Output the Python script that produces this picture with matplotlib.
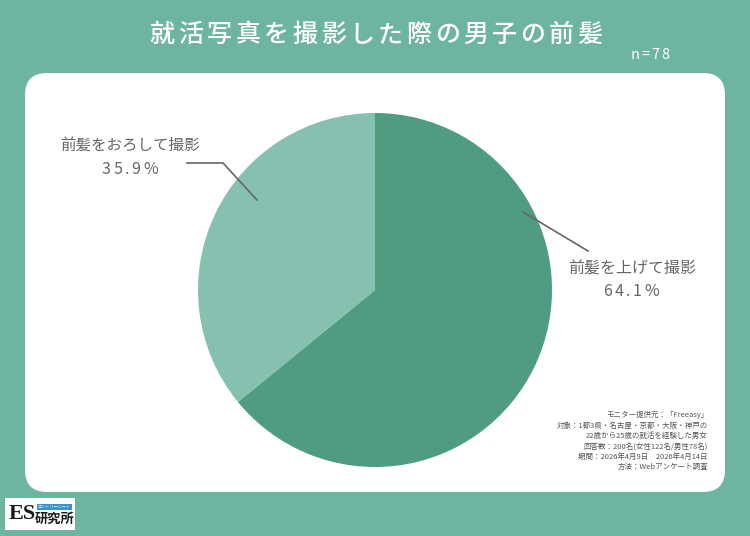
import matplotlib
matplotlib.use("Agg")
import matplotlib.pyplot as plt
from matplotlib.patches import FancyBboxPatch, Rectangle

plt.rcParams['font.family'] = ['Noto Sans CJK JP', 'DejaVu Sans']

# data
labels = ["前髪を上げて撮影", "前髪をおろして撮影"]
shares = [64.1, 35.9]
colors = ["#4f9c80", "#86c0b0"]
title = "就活写真を撮影した際の男子の前髪"
n_text = "n=78"
notes = [
    "モニター提供元：「Freeasy」",
    "対象：1都3県・名古屋・京都・大阪・神戸の",
    "22歳から25歳の就活を経験した男女",
    "回答数：200名(女性122名/男性78名)",
    "期間：2026年4月9日　2026年4月14日",
    "方法：Webアンケート調査",
]

W, H = 750, 536
bg = "#6db5a0"
fig = plt.figure(figsize=(W / 100, H / 100), dpi=100, facecolor=bg)
ax = fig.add_axes([0, 0, 1, 1])
renderer = fig.canvas.get_renderer()


def spaced_text(x, y, s, gap, **kw):
    # draw text with extra letter spacing (pixels), centred on x
    parts = [ax.text(0, y, ch, ha="left", va="center", **kw) for ch in s]
    widths = [p.get_window_extent(renderer).width for p in parts]
    total = sum(widths) + gap * (len(s) - 1)
    cx = x - total / 2
    for p, w in zip(parts, widths):
        p.set_x(cx)
        cx += w + gap


# white panel
ax.add_patch(FancyBboxPatch((25, H - 492), 700, 419,
                            boxstyle="round,pad=0,rounding_size=22",
                            facecolor="white", edgecolor="none", zorder=1))

# pie
ax.pie(shares, colors=colors, startangle=90, counterclock=False,
       center=(375, H - 290), radius=177, frame=True,
       wedgeprops=dict(edgecolor="none", zorder=2))
ax.set_xlim(0, W)
ax.set_ylim(0, H)
ax.set_aspect("equal")
ax.axis("off")

gray = "#666666"
# leader lines
ax.plot([523, 588], [H - 212, H - 251], color=gray, lw=1.2, zorder=3)
ax.plot([187, 223, 257], [H - 163, H - 163, H - 200], color=gray, lw=1.2, zorder=3)

# labels
ax.text(632, H - 268, labels[0], ha="center", va="center", fontsize=11.5, color=gray, zorder=4)
spaced_text(631, H - 292, f"{shares[0]}%", 2.5, fontsize=11.5, color=gray, zorder=4)
ax.text(129.5, H - 145, labels[1], ha="center", va="center", fontsize=11.2, color=gray, zorder=4)
spaced_text(130, H - 170, f"{shares[1]}%", 2.5, fontsize=11.5, color=gray, zorder=4)

# title
spaced_text(376, H - 35, title, 3.5, fontsize=18, fontweight="medium", color="white")
spaced_text(650, H - 55, n_text, 1.5, fontsize=10.5, color="white")

# notes
for i, line in enumerate(notes):
    ax.text(708, H - 415 - i * 10.4, line, ha="right", va="center", fontsize=5.4,
            color="#555555", zorder=4)

# logo
ax.add_patch(Rectangle((5, H - 530), 70, 32, facecolor="white", edgecolor="none"))
ax.text(22.5, H - 514, "ES", ha="center", va="center", fontsize=16, fontweight="bold",
        family=["Liberation Serif"], color="#1a1a1a")
ax.add_patch(Rectangle((37, H - 509.5), 35, 5.5, facecolor="#3a8fd0", edgecolor="none"))
ax.text(54.5, H - 506.8, "エントリーシート", ha="center", va="center", fontsize=3.0, color="white")
ax.text(55, H - 518.5, "研究所", ha="center", va="center", fontsize=9.5, fontweight="bold",
        color="#1a1a1a")

fig.savefig("out.png", dpi=100, facecolor=bg)
